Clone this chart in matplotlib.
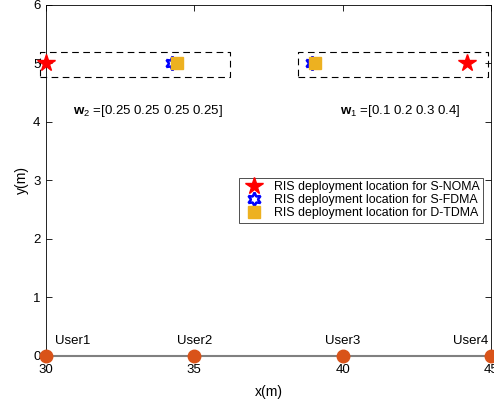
import matplotlib
matplotlib.use("Agg")
import matplotlib.pyplot as plt

plt.rcParams['font.family'] = ['Liberation Sans', 'DejaVu Sans']
plt.rcParams['mathtext.fontset'] = 'custom'
plt.rcParams['mathtext.rm'] = 'Liberation Sans'
plt.rcParams['mathtext.bf'] = 'Liberation Sans:bold'

# users on the ground
user_x = [30, 35, 40, 45]
user_y = [0, 0, 0, 0]
user_names = ["User1", "User2", "User3", "User4"]
label_x = [30.9, 35, 40, 44.3]

# RIS deployment locations
noma_x = [30, 44.2]
noma_y = [5, 5]
fdma_x = [34.25, 38.97]
fdma_y = [5, 5]
tdma_x = [34.4, 39.07]
tdma_y = [5, 5]

# dashed boxes (x0, x1, y0, y1)
boxes = [(29.8, 36.2, 4.77, 5.2), (38.48, 44.9, 4.77, 5.2)]

fig = plt.figure(figsize=(4.94, 4.04), dpi=100)
ax = fig.add_axes([0.093, 0.119, 0.901, 0.869])

ax.plot(user_x, user_y, '-', color=(0.5, 0.5, 0.5), lw=1.5, clip_on=False, zorder=3)
ax.plot(user_x, user_y, 'o', color=(0.85, 0.325, 0.098), ms=9, clip_on=False, zorder=4)
for i in range(len(user_x)):
    ax.text(label_x[i], 0.15, user_names[i], ha='center', va='bottom', fontsize=9.5)

for b in boxes:
    ax.plot([b[0], b[1], b[1], b[0], b[0]], [b[2], b[2], b[3], b[3], b[2]],
            '--', color='k', lw=0.8, dashes=(6, 4), clip_on=False)

ax.plot(noma_x, noma_y, '*', color='r', ms=13, ls='none', clip_on=False, zorder=5,
        label='RIS deployment location for S-NOMA')
ax.plot(fdma_x, fdma_y, mfc='none', mec='b', mew=1.8, ms=10, ls='none', clip_on=False,
        zorder=5, marker=(6, 1, 0), label='RIS deployment location for S-FDMA')
ax.plot(tdma_x, tdma_y, 's', color=(0.929, 0.694, 0.125), ms=8, ls='none', clip_on=False,
        zorder=6, label='RIS deployment location for D-TDMA')

ax.text(30.9, 4.19, r'$\mathbf{w}_2$ =[0.25 0.25 0.25 0.25]', fontsize=9.5, va='center')
ax.text(39.9, 4.19, r'$\mathbf{w}_1$ =[0.1 0.2 0.3 0.4]', fontsize=9.5, va='center')

ax.set_xlim(30, 45)
ax.set_ylim(0, 6)
ax.set_xticks([30, 35, 40, 45])
ax.set_yticks([0, 1, 2, 3, 4, 5, 6])
ax.tick_params(direction='in', top=True, right=True, labelsize=9.5, length=4, width=0.6)
ax.tick_params(axis='x', pad=6)
ax.tick_params(axis='y', pad=4)
for s in ax.spines.values():
    s.set_linewidth(0.6)
ax.set_xlabel('x(m)', fontsize=10, labelpad=6)
ax.set_ylabel('y(m)', fontsize=10, labelpad=3)

leg = ax.legend(loc='upper left', bbox_to_anchor=(0.433, 0.507), fontsize=8.9,
                frameon=True, fancybox=False, edgecolor='k', borderpad=0.25,
                handletextpad=0.6, labelspacing=0.1, borderaxespad=0)
leg.get_frame().set_linewidth(0.6)

fig.savefig('out.png', dpi=100)
